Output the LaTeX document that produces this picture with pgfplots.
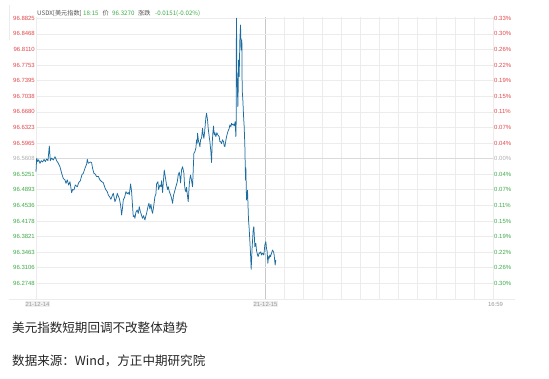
\documentclass[border=0pt]{standalone}
\usepackage{pgfplots}
\pgfplotsset{compat=1.18}
\usepackage{fontspec}
\setmainfont{Liberation Sans}
\newfontfamily\cjk{Noto Sans CJK SC}
\newfontfamily\tickf{Liberation Sans}
\definecolor{upred}{RGB}{226,72,76}
\definecolor{dngreen}{RGB}{62,170,72}
\definecolor{zerogray}{RGB}{175,175,175}
\definecolor{linecol}{RGB}{28,108,160}
\definecolor{gridc}{RGB}{236,236,236}
\definecolor{sepc}{RGB}{200,200,200}
\definecolor{hdrgray}{RGB}{85,85,85}
\begin{document}
\begin{tikzpicture}[x=1bp,y=1bp]
\path[use as bounding box, fill=white] (0,0) rectangle (549,378);
% frame fragments
\draw[draw=gridc, line width=0.6bp] (9,79) -- (515,79);
\draw[draw=gridc, line width=0.6bp] (9,338) -- (9,373);
% vertical grid (right session) and borders
\draw[draw=gridc, line width=0.6bp] (36,79) -- (36,361);
\draw[draw=gridc, line width=0.6bp] (283.9,79) -- (283.9,361);
\draw[draw=gridc, line width=0.6bp] (302.9,79) -- (302.9,361);
\draw[draw=gridc, line width=0.6bp] (322.0,79) -- (322.0,361);
\draw[draw=gridc, line width=0.6bp] (341.0,79) -- (341.0,361);
\draw[draw=gridc, line width=0.6bp] (360.1,79) -- (360.1,361);
\draw[draw=gridc, line width=0.6bp] (379.1,79) -- (379.1,361);
\draw[draw=gridc, line width=0.6bp] (398.2,79) -- (398.2,361);
\draw[draw=gridc, line width=0.6bp] (417.3,79) -- (417.3,361);
\draw[draw=gridc, line width=0.6bp] (436.3,79) -- (436.3,361);
\draw[draw=gridc, line width=0.6bp] (455.4,79) -- (455.4,361);
\draw[draw=gridc, line width=0.6bp] (474.4,79) -- (474.4,361);
\draw[draw=gridc, line width=0.6bp] (493,79) -- (493,361);
\draw[draw=sepc, line width=0.6bp] (264.8,79) -- (264.8,361);
\begin{axis}[
  at={(36bp,361bp)}, anchor=north west,
  scale only axis, width=457bp, height=282bp,
  xmin=0, xmax=1372, ymin=96.2388, ymax=96.8855,
  axis line style={draw=none},
  xtick=\empty,
  ytick={96.8825,96.8468,96.8110,96.7753,96.7395,96.7038,96.6680,96.6323,96.5965,96.5608,96.5251,96.4893,96.4536,96.4178,96.3821,96.3463,96.3106,96.2748},
  yticklabels={\textcolor{upred}{96.8825},\textcolor{upred}{96.8468},\textcolor{upred}{96.8110},\textcolor{upred}{96.7753},\textcolor{upred}{96.7395},\textcolor{upred}{96.7038},\textcolor{upred}{96.6680},\textcolor{upred}{96.6323},\textcolor{upred}{96.5965},\textcolor{zerogray}{96.5608},\textcolor{dngreen}{96.5251},\textcolor{dngreen}{96.4893},\textcolor{dngreen}{96.4536},\textcolor{dngreen}{96.4178},\textcolor{dngreen}{96.3821},\textcolor{dngreen}{96.3463},\textcolor{dngreen}{96.3106},\textcolor{dngreen}{96.2748}},
  extra y ticks={96.5608}, extra y tick labels={},
  extra y tick style={grid style={draw=gridc!50!sepc, line width=0.6bp}},
  major tick length=0pt,
  ymajorgrids, grid style={draw=gridc, line width=0.6bp},
  yticklabel style={font=\tickf\fontsize{6}{7}\selectfont, inner sep=1bp},
  clip=false,
]
\addplot[color=linecol, line width=0.75pt, line join=round] table {
0 96.5309
2 96.5615
5 96.5540
8 96.5580
12 96.5500
16 96.5560
20 96.5530
24 96.5590
28 96.5540
32 96.5600
36 96.5560
40 96.5897
43 96.5560
47 96.5620
52 96.5576
57 96.5653
62 96.5560
67 96.5500
72 96.5420
77 96.5271
82 96.5150
87 96.5118
90 96.5041
94 96.5120
98 96.5000
102 96.5079
107 96.4827
110 96.4900
114 96.4888
118 96.5003
124 96.4960
128 96.5056
133 96.5100
138 96.5240
142 96.5271
147 96.5385
152 96.5480
154 96.5592
157 96.5500
160 96.5515
164 96.5530
167 96.5515
170 96.5380
174 96.5271
178 96.5250
182 96.5194
187 96.5200
192 96.5118
197 96.5080
202 96.5056
207 96.4940
210 96.4888
214 96.4850
217 96.4774
222 96.4720
225 96.4674
229 96.4760
232 96.4812
235 96.4700
237 96.4621
241 96.4700
244 96.4812
247 96.4750
250 96.4697
254 96.4540
257 96.4315
260 96.4500
262 96.4659
266 96.4720
270 96.4850
274 96.4800
277 96.4830
280 96.4780
284 96.5026
287 96.4850
290 96.4500
292 96.4277
295 96.4300
297 96.4239
300 96.4380
304 96.4430
307 96.4350
310 96.4506
313 96.4400
315 96.4353
318 96.4280
320 96.4239
323 96.4300
327 96.4200
330 96.4300
332 96.4353
336 96.4500
339 96.4583
342 96.4450
345 96.4560
348 96.4400
350 96.4353
353 96.4500
357 96.4735
360 96.4800
362 96.5026
366 96.5080
368 96.4900
372 96.5000
375 96.4965
377 96.5100
380 96.4830
385 96.5347
390 96.5100
392 96.5000
395 96.4900
397 96.4965
400 96.4860
404 96.4774
407 96.4700
410 96.4583
413 96.4770
416 96.4850
420 96.4965
424 96.5070
427 96.5232
430 96.5300
432 96.5200
434 96.5050
437 96.5347
440 96.5423
444 96.5271
446 96.5000
448 96.4880
450 96.4850
452 96.4950
454 96.4800
457 96.4621
460 96.5000
462 96.5150
464 96.5232
467 96.5100
470 96.4960
474 96.5729
477 96.5767
480 96.5850
482 96.6035
484 96.5960
485 96.6188
488 96.6000
490 96.5958
492 96.5880
494 96.6035
497 96.6080
500 96.6302
502 96.6150
504 96.6073
506 96.6200
508 96.6379
510 96.6550
512 96.6646
515 96.6494
517 96.6300
520 96.6111
522 96.6000
525 96.5767
527 96.5520
529 96.5958
531 96.6200
533 96.6356
535 96.6150
537 96.6200
540 96.6111
543 96.6200
546 96.6150
550 96.6111
552 96.6000
554 96.5997
557 96.5950
560 96.6040
563 96.5997
565 96.5900
567 96.5882
569 96.5980
572 96.6111
576 96.6226
580 96.6300
582 96.6379
585 96.6340
587 96.6417
589 96.6380
592 96.6400
595 96.6356
597 96.6420
598 96.6455
600 96.6111
601 96.6455
601.5 96.8328
602 96.8825
603 96.7600
604 96.7411
606 96.6799
607 96.7200
608 96.7869
610 96.7487
612 96.8328
614 96.8672
616 96.8099
618 96.8328
619 96.7182
621 96.6952
623 96.6600
625 96.6341
627 96.5900
629 96.5118
630 96.5400
632 96.4659
635 96.4880
638 96.4200
640 96.4000
644 96.3436
646 96.3069
649 96.3589
652 96.3971
654 96.4047
657 96.3589
660 96.3665
662 96.3500
665 96.3400
667 96.3360
670 96.3450
672 96.3436
675 96.3470
677 96.3398
680 96.3440
682 96.3420
684 96.3398
687 96.3627
690 96.3704
692 96.3550
694 96.3474
696 96.3207
698 96.3360
700 96.3321
702 96.3400
704 96.3360
707 96.3436
710 96.3512
713 96.3470
715 96.3398
718 96.3168
720 96.3283
};
\end{axis}
\begin{axis}[
  at={(36bp,361bp)}, anchor=north west,
  scale only axis, width=457bp, height=282bp,
  xmin=0, xmax=1372, ymin=96.2388, ymax=96.8855,
  axis line style={draw=none},
  xtick=\empty,
  axis x line=none,
  axis y line*=right,
  ytick={96.8825,96.8468,96.8110,96.7753,96.7395,96.7038,96.6680,96.6323,96.5965,96.5608,96.5251,96.4893,96.4536,96.4178,96.3821,96.3463,96.3106,96.2748},
  yticklabels={\textcolor{upred}{0.33\%},\textcolor{upred}{0.30\%},\textcolor{upred}{0.26\%},\textcolor{upred}{0.22\%},\textcolor{upred}{0.19\%},\textcolor{upred}{0.15\%},\textcolor{upred}{0.11\%},\textcolor{upred}{0.07\%},\textcolor{upred}{0.04\%},\textcolor{zerogray}{0.00\%},\textcolor{dngreen}{0.04\%},\textcolor{dngreen}{0.07\%},\textcolor{dngreen}{0.11\%},\textcolor{dngreen}{0.15\%},\textcolor{dngreen}{0.19\%},\textcolor{dngreen}{0.22\%},\textcolor{dngreen}{0.26\%},\textcolor{dngreen}{0.30\%}},
  major tick length=0pt,
  yticklabel style={font=\tickf\fontsize{6}{7}\selectfont, inner sep=1bp},
]
\addplot[draw=none] coordinates {(0,96.5608)};
\end{axis}
% header
\begin{scope}[every node/.style={anchor=base west, inner sep=0pt, font=\cjk\fontsize{6.2}{7}\selectfont}]
\node[text=hdrgray] at (37,363) {USDX[美元指数]};
\node[text=dngreen] at (83,363) {18:15};
\node[text=hdrgray] at (102.5,363) {价};
\node[text=dngreen] at (112,363) {96.3270};
\node[text=hdrgray] at (138,363) {涨跌};
\node[text=dngreen] at (155,363) {-0.0151(-0.02\%)};
\end{scope}
% date labels
\begin{scope}[every node/.style={inner sep=1bp, font=\tickf\fontsize{6}{7}\selectfont, text=gray!80}]
\node[fill=gray!12] at (37.5,74) {21-12-14};
\node[fill=gray!12] at (265.5,74) {21-12-15};
\node at (495.5,74) {16:59};
\end{scope}
% captions
\node[anchor=west, inner sep=0pt, font=\cjk\fontsize{12.6}{14}\selectfont, text=black!85] at (12,50) {美元指数短期回调不改整体趋势};
\node[anchor=west, inner sep=0pt, font=\cjk\fontsize{12.6}{14}\selectfont, text=black!85] at (12,17) {数据来源：Wind，方正中期研究院};
\end{tikzpicture}
\end{document}
